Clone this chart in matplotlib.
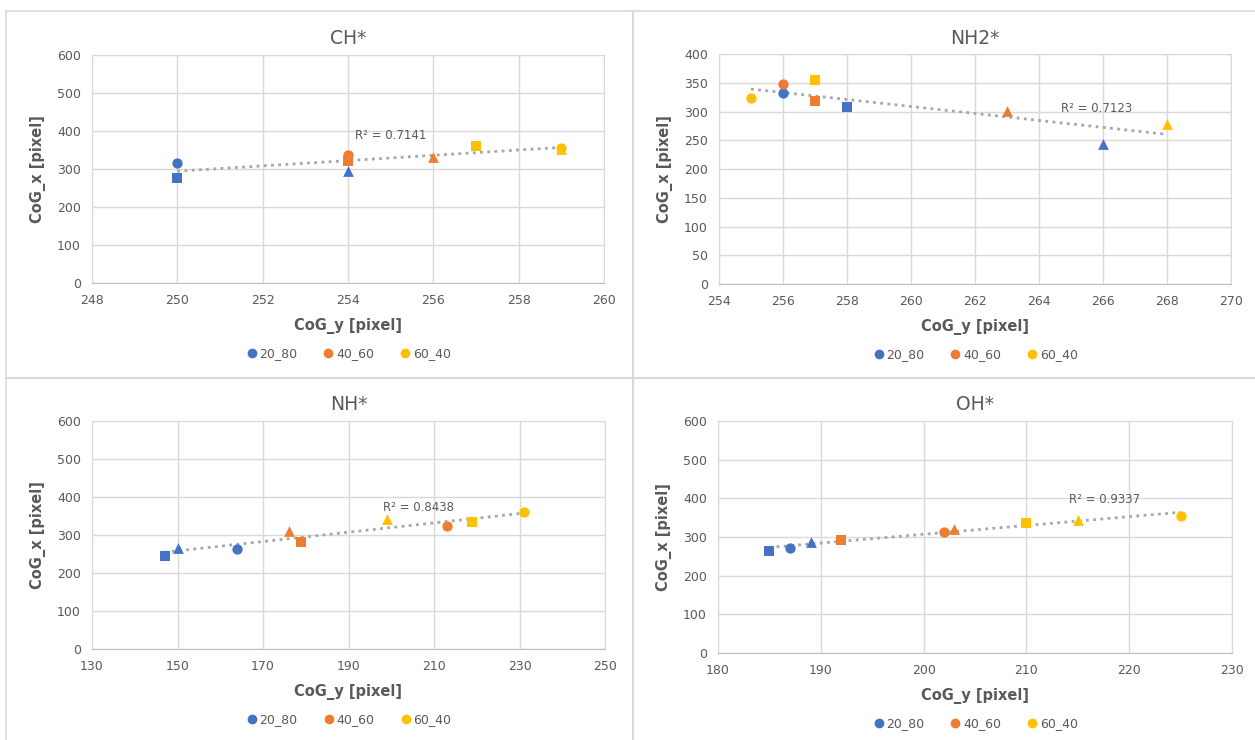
import matplotlib
matplotlib.use("Agg")
import matplotlib.pyplot as plt
from matplotlib.lines import Line2D
import numpy as np

# series: 20_80 (blue), 40_60 (orange), 60_40 (yellow); each has circle, square, triangle
titles = ["CH*", "NH2*", "NH*", "OH*"]
series_names = ["20_80", "40_60", "60_40"]

# per panel: x (CoG_y) and y (CoG_x) for [circle, square, triangle] of each series
ch_x = {"20_80": [250, 250, 254], "40_60": [254, 254, 256], "60_40": [259, 257, 259]}
ch_y = {"20_80": [315, 277, 296], "40_60": [338, 322, 332], "60_40": [355, 360, 353]}

nh2_x = {"20_80": [256, 258, 266], "40_60": [256, 257, 263], "60_40": [255, 257, 268]}
nh2_y = {"20_80": [332, 307, 243], "40_60": [347, 318, 301], "60_40": [323, 354, 278]}

nh_x = {"20_80": [164, 147, 150], "40_60": [213, 179, 176], "60_40": [231, 219, 199]}
nh_y = {"20_80": [264, 245, 266], "40_60": [324, 282, 311], "60_40": [360, 333, 342]}

oh_x = {"20_80": [187, 185, 189], "40_60": [202, 192, 203], "60_40": [225, 210, 215]}
oh_y = {"20_80": [271, 264, 287], "40_60": [313, 293, 321], "60_40": [354, 335, 344]}

r2_labels = ["R² = 0.7141", "R² = 0.7123", "R² = 0.8438", "R² = 0.9337"]

xlims = [(248, 260), (254, 270), (130, 250), (180, 230)]
xsteps = [2, 2, 20, 10]
ylims = [(0, 600), (0, 400), (0, 600), (0, 600)]
ysteps = [100, 50, 100, 100]
r2_pos = [(255, 387), (265.8, 306), (206.3, 372), (217.6, 398)]

colors = {"20_80": "#4472C4", "40_60": "#ED7D31", "60_40": "#FFC000"}
shapes = ["o", "s", "^"]
sizes = [55, 55, 60]

W, H = 1255, 740
fig = plt.figure(figsize=(W / 100, H / 100), dpi=100)
fig.patch.set_facecolor("white")

# plot area rectangles in pixels: left, top, right, bottom
boxes = [(92, 55, 604, 283), (719, 54, 1231, 284), (92, 421, 605, 649), (718, 421, 1232, 653)]

gray_text = "#595959"
grid_col = "#d9d9d9"

datasets = [(ch_x, ch_y), (nh2_x, nh2_y), (nh_x, nh_y), (oh_x, oh_y)]

for i, (dx, dy) in enumerate(datasets):
    l, t, r, b = boxes[i]
    ax = fig.add_axes([l / W, 1 - b / H, (r - l) / W, (b - t) / H])
    allx, ally = [], []
    for s in series_names:
        for k in range(3):
            ax.scatter(dx[s][k], dy[s][k], marker=shapes[k], s=sizes[k],
                       color=colors[s], zorder=3, linewidths=0)
        allx += dx[s]
        ally += dy[s]
    # linear trendline
    allx = np.array(allx, float)
    ally = np.array(ally, float)
    m, c = np.polyfit(allx, ally, 1)
    xs = np.array([allx.min(), allx.max()])
    ax.plot(xs, m * xs + c, linestyle=(0, (1, 1.6)), color="#a6a6a6", lw=2, zorder=2)
    ax.text(r2_pos[i][0], r2_pos[i][1], r2_labels[i], ha="center", va="center",
            fontsize=8.5, color=gray_text, zorder=4)

    ax.set_xlim(*xlims[i])
    ax.set_ylim(*ylims[i])
    ax.set_xticks(np.arange(xlims[i][0], xlims[i][1] + 0.1, xsteps[i]))
    ax.set_yticks(np.arange(ylims[i][0], ylims[i][1] + 0.1, ysteps[i]))
    ax.grid(True, color=grid_col, lw=1)
    ax.set_axisbelow(True)
    for sp in ["top", "right", "left"]:
        ax.spines[sp].set_color(grid_col)
    ax.spines["bottom"].set_color("#bfbfbf")
    ax.tick_params(length=0, labelsize=9, colors=gray_text, pad=8)

    fig.text((l + r) / 2 / W, 1 - (t - 16) / H, titles[i], ha="center", va="center",
             fontsize=13.5, color=gray_text)
    ax.set_xlabel("CoG_y [pixel]", fontsize=10.5, fontweight="bold", color=gray_text, labelpad=8)
    ax.set_ylabel("CoG_x [pixel]", fontsize=10.5, fontweight="bold", color=gray_text, labelpad=8)

    handles = [Line2D([], [], marker="o", ls="", color=colors[s], markersize=6) for s in series_names]
    fig.legend(handles, series_names, loc="center", ncol=3, frameon=False,
               bbox_to_anchor=((l + r) / 2 / W, 1 - (b + 71) / H),
               fontsize=9, labelcolor=gray_text, handletextpad=0.1, columnspacing=2.0,
               handlelength=1.0)

# panel borders
border = "#d9d9d9"
fig.add_artist(Line2D([6 / W, 1], [1 - 11 / H, 1 - 11 / H], color=border, lw=1.2))
fig.add_artist(Line2D([6 / W, 6 / W], [0, 1 - 11 / H], color=border, lw=1.2))
fig.add_artist(Line2D([633 / W, 633 / W], [0, 1 - 11 / H], color=border, lw=1.5))
fig.add_artist(Line2D([6 / W, 1], [1 - 378 / H, 1 - 378 / H], color=border, lw=1.5))

fig.savefig("out.png", dpi=100, facecolor="white")
